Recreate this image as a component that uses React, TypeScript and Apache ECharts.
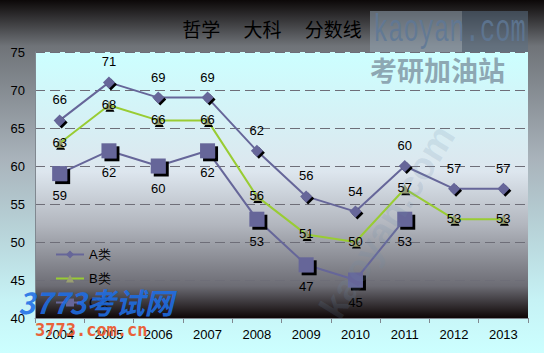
import React, { useEffect, useRef } from "react";
import * as echarts from "echarts";

const years = ["2004", "2005", "2006", "2007", "2008", "2009", "2010", "2011", "2012", "2013"];
const seriesA = [66, 71, 69, 69, 62, 56, 54, 60, 57, 57];
const seriesB = [63, 68, 66, 66, 56, 51, 50, 57, 53, 53];
const seriesC = [59, 62, 60, 62, 53, 47, 45, 53, null, null];
const seriesNames = ["A类", "B类", "C类"];
const yTicks = { min: 40, max: 75, interval: 5 };

export default function App() {
  const ref = useRef<HTMLDivElement>(null);
  useEffect(() => {
    const chart = echarts.init(ref.current!, null, { renderer: "svg" });
    const font = "Liberation Sans";
    const labelBase = { show: true, color: "#000", fontSize: 13, fontFamily: font };
    chart.setOption({
      animation: false,
      backgroundColor: new echarts.graphic.LinearGradient(0, 0, 0, 1, [
        { offset: 0, color: "#0c0808" },
        { offset: 0.13, color: "#6f7378" },
        { offset: 0.45, color: "#a9b3bb" },
        { offset: 0.85, color: "#c6f2f5" },
        { offset: 1, color: "#ccffff" },
      ]),
      title: {
        text: "哲学\u3000 大科\u3000 分数线",
        left: "center",
        top: 14,
        textStyle: { fontSize: 19, fontWeight: "normal", color: "#000", fontFamily: "Noto Sans CJK SC" },
      },
      legend: {
        orient: "vertical",
        left: 50,
        top: 243,
        itemGap: 11,
        itemWidth: 28,
        itemHeight: 10,
        textStyle: { color: "#000", fontSize: 13, fontFamily: font },
        data: seriesNames,
      },
      grid: {
        left: 35,
        right: 16,
        top: 52,
        bottom: 35,
        show: true,
        borderWidth: 0,
        backgroundColor: new echarts.graphic.LinearGradient(0, 0, 0, 1, [
          { offset: 0, color: "#ccffff" },
          { offset: 0.45, color: "#dde6ee" },
          { offset: 0.65, color: "#b2b6be" },
          { offset: 0.88, color: "#6c6c74" },
          { offset: 1, color: "#0e0606" },
        ]),
      },
      xAxis: {
        type: "category",
        data: years,
        boundaryGap: true,
        axisLine: { show: true, lineStyle: { color: "#808890", width: 1 } },
        axisTick: { show: true, length: 5, lineStyle: { color: "#808890" } },
        axisLabel: { color: "#000", fontSize: 13, fontFamily: font, margin: 10 },
      },
      yAxis: {
        type: "value",
        min: yTicks.min,
        max: yTicks.max,
        interval: yTicks.interval,
        axisLine: { show: true, lineStyle: { color: "#808890" } },
        axisTick: { show: false },
        axisLabel: { color: "#000", fontSize: 13, fontFamily: font, margin: 10 },
        splitLine: { show: true, lineStyle: { color: "#6e6e78", type: [10, 5], width: 1 } },
      },
      series: [
        {
          name: seriesNames[0],
          type: "line",
          data: seriesA,
          symbol: "diamond",
          symbolSize: 12,
          lineStyle: { color: "#666699", width: 2 },
          itemStyle: { color: "#666699", shadowColor: "#000", shadowOffsetX: 2, shadowOffsetY: 2, shadowBlur: 0 },
          label: { ...labelBase, position: "top", distance: 8 },
          z: 3,
        },
        {
          name: seriesNames[1],
          type: "line",
          data: seriesB,
          symbol: "triangle",
          symbolSize: 9,
          lineStyle: { color: "#99cc33", width: 2 },
          itemStyle: { color: "#9aa070", shadowColor: "#000", shadowOffsetX: 1, shadowOffsetY: 2, shadowBlur: 0 },
          label: { ...labelBase, position: "inside", offset: [0, -1] },
          z: 3,
        },
        {
          name: seriesNames[2],
          type: "line",
          data: seriesC,
          symbol: "rect",
          symbolSize: 15,
          connectNulls: false,
          lineStyle: { color: "#666699", width: 2 },
          itemStyle: { color: "#666699", shadowColor: "#000", shadowOffsetX: 3, shadowOffsetY: 3, shadowBlur: 0 },
          label: { ...labelBase, position: "bottom", distance: 8 },
          z: 3,
        },
      ],
      graphic: [
        {
          type: "text",
          x: 345,
          y: 325,
          rotation: (58 * Math.PI) / 180,
          style: { text: "kaoyan.com", fill: "rgba(110,140,170,0.16)", fontSize: 38, fontWeight: "bold", fontFamily: "Liberation Sans", verticalAlign: "bottom" },
          z: 9,
        },
        {
          type: "rect",
          shape: { x: 370, y: 11, width: 92, height: 41 },
          style: { fill: "rgba(150,165,180,0.55)" },
          z: 10,
        },
        {
          type: "rect",
          shape: { x: 462, y: 11, width: 66, height: 41 },
          style: { fill: "rgba(90,110,130,0.55)" },
          z: 10,
        },
        {
          type: "text",
          x: 373,
          y: 12,
          scaleX: 0.67,
          style: { text: "kaoyan.com", fill: "rgba(95,120,150,0.85)", fontSize: 38, fontFamily: "Liberation Mono", fontWeight: "normal" },
          z: 11,
        },
        {
          type: "text",
          x: 370,
          y: 56,
          style: { text: "考研加油站", fill: "rgba(120,140,155,0.75)", fontSize: 27, fontWeight: "bold", fontFamily: "Noto Sans CJK SC" },
          z: 11,
        },
        {
          type: "text",
          x: 18,
          y: 286,
          style: {
            text: "3773考试网",
            fill: "rgba(30,110,230,0.9)",
            fontSize: 29,
            fontWeight: "bold",
            fontStyle: "italic",
            fontFamily: "Noto Sans CJK SC",
          },
          z: 11,
        },
        {
          type: "text",
          x: 35,
          y: 321,
          style: { text: "3773.com.cn", fill: "#e8623a", fontSize: 17, fontWeight: "bold", fontFamily: "DejaVu Sans Mono" },
          z: 11,
        },
      ],
    });
    return () => chart.dispose();
  }, []);
  return <div ref={ref} style={{ position: "fixed", left: 0, top: 0, width: 544, height: 353 }} />;
}
